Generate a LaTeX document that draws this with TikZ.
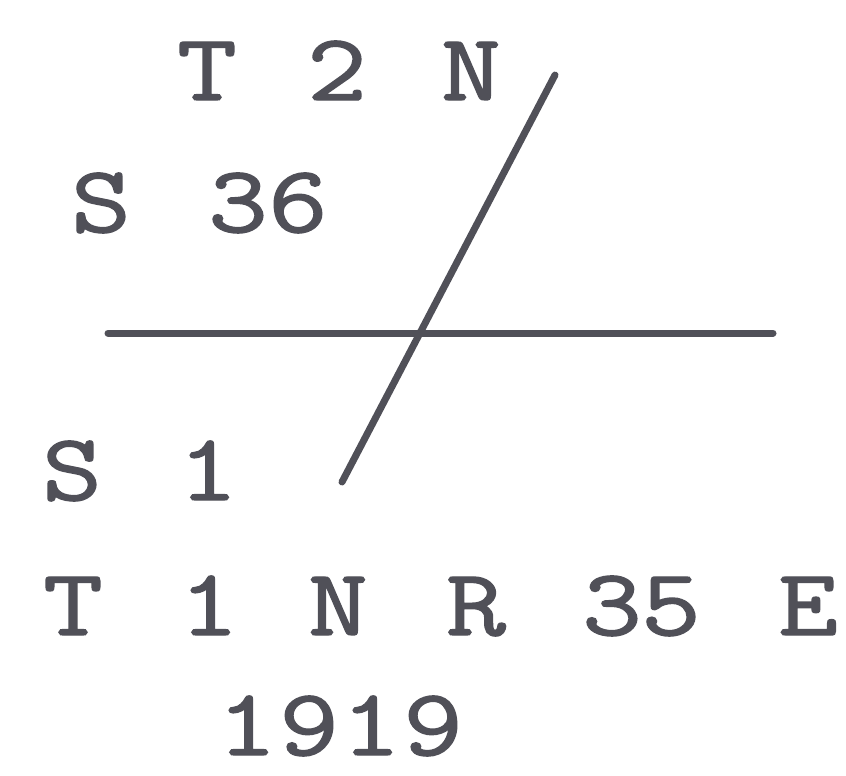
\documentclass[tikz,border=0pt]{standalone}
\usepackage{graphicx}
\usepackage{fontspec}
\newfontfamily\stampfont[FakeBold=1.4]{Latin Modern Mono}
\definecolor{stampgray}{RGB}{80, 80, 88}
\newcommand{\wide}[1]{\scalebox{1.22}[1]{#1}}
\tikzset{
  stamp/.style={font=\stampfont\fontsize{95}{95}\selectfont, text=stampgray, inner sep=0pt, anchor=base},
  rule/.style={draw=stampgray, line width=7pt, line cap=round}
}

\begin{document}
\begin{tikzpicture}[x=1pt, y=-1pt]
  \useasboundingbox (0,0) rectangle (846,776);
  % township and section above the line
  \foreach \c/\x [count=\i] in {T/207, 2/337, N/471}
    \node[stamp] (upper\i) at (\x,100) {\wide{\c}};
  \foreach \c/\x [count=\i] in {S/101, 3/238, 6/298}
    \node[stamp] (sec\i) at (\x,232) {\wide{\c}};
  % section line and township line
  \draw[rule] (108,333) -- (773,333);
  \draw[rule] (555,75) -- (342,482);
  % below the line
  \foreach \c/\x [count=\i] in {S/72, 1/208}
    \node[stamp] (lower\i) at (\x,500) {\wide{\c}};
  \foreach \c/\x [count=\i] in {T/73, 1/209, N/338, R/476, 3/612, 5/671, E/808}
    \node[stamp] (range\i) at (\x,635) {\wide{\c}};
  \foreach \c/\x [count=\i] in {1/247, 9/309, 1/371, 9/433}
    \node[stamp] (year\i) at (\x,755) {\wide{\c}};
\end{tikzpicture}
\end{document}
